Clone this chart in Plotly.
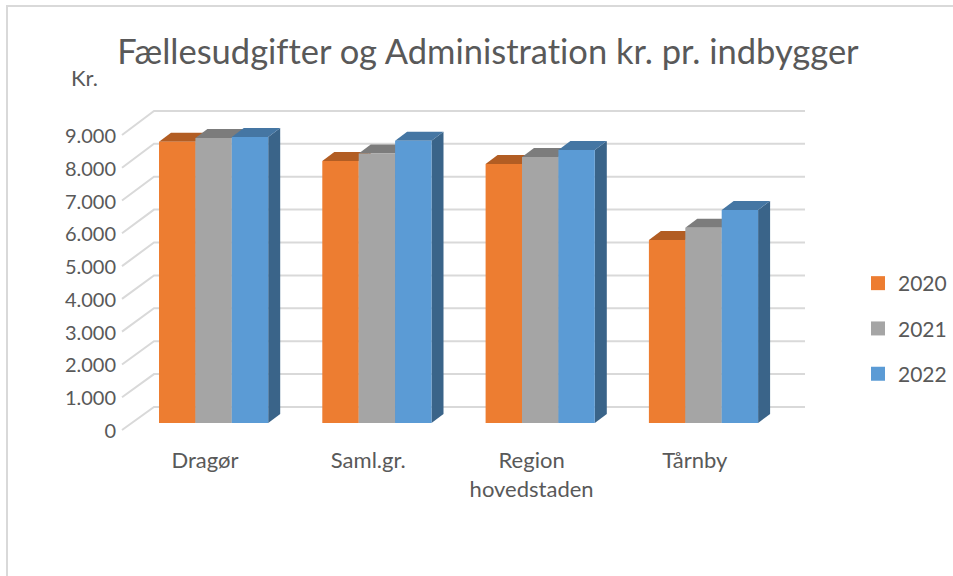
import plotly.graph_objects as go

categories = ["Dragør", "Saml.gr.", "Region<br>hovedstaden", "Tårnby"]
years = ["2020", "2021", "2022"]
values_2020 = [8550, 7960, 7870, 5560]
values_2021 = [8660, 8195, 8085, 5935]
values_2022 = [8690, 8580, 8300, 6475]
series = [values_2020, values_2021, values_2022]
front_colors = ["#ED7D31", "#A5A5A5", "#5B9BD5"]
top_colors = ["#B25D23", "#7C7C7C", "#4576A3"]
side_colors = ["#B25D23", "#7C7C7C", "#3A6489"]
y_ticks = list(range(0, 10000, 1000))
y_ticktext = [f"{v:,}".replace(",", ".") for v in y_ticks]

W, H = 953, 576
UNIT = 163.3
X0 = 205
xr = [(0 - X0) / UNIT, (W - X0) / UNIT]
yr = [(423 - H) / 0.0329, 423 / 0.0329]
yr_lab = [(431 - H) / 0.03278, 431 / 0.03278]
bar_w = 36.4 / UNIT
offsets = [-27.8 / UNIT, 8.6 / UNIT, 45.0 / UNIT]
dx, dy = 12 / UNIT, 9 / 0.0329
wall_front, wall_back, wall_right = (122 - X0) / UNIT, (154 - X0) / UNIT, (805 - X0) / UNIT
back_shift = (423 - 407) / 0.0329
front_shift = (423 - 430) / 0.0329

fig = go.Figure()
GRID = dict(color="#D9D9D9", width=2)
for v in y_ticks:
    fig.add_trace(go.Scatter(
        x=[wall_front, wall_back, wall_right],
        y=[v * 0.03278 / 0.0329 + front_shift, v + back_shift, v + back_shift],
        mode="lines", line=GRID, showlegend=False, hoverinfo="skip"))

for i in range(len(categories)):
    for s, vals in enumerate(series):
        x0 = i + offsets[s] - bar_w / 2
        x1 = x0 + bar_w
        v = vals[i]
        fig.add_trace(go.Scatter(
            x=[x1, x1 + dx, x1 + dx, x1, x1], y=[0, dy, v + dy, v, 0],
            mode="lines", fill="toself", fillcolor=side_colors[s], line=dict(width=0),
            showlegend=False, hoverinfo="skip"))
        fig.add_trace(go.Scatter(
            x=[x0, x0 + dx, x1 + dx, x1, x0], y=[v, v + dy, v + dy, v, v],
            mode="lines", fill="toself", fillcolor=top_colors[s], line=dict(width=0),
            showlegend=False, hoverinfo="skip"))

for s, vals in enumerate(series):
    fig.add_trace(go.Bar(
        x=[i + offsets[s] for i in range(len(categories))], y=vals, width=bar_w,
        marker=dict(color=front_colors[s], line=dict(width=0)), name=years[s],
        showlegend=False, xaxis="x2", yaxis="y2"))
    fig.add_trace(go.Scatter(
        x=[None], y=[None], mode="markers", name=years[s], legendgroup=years[s],
        marker=dict(symbol="square", size=14, color=front_colors[s]),
        xaxis="x2", yaxis="y2"))

fig.add_trace(go.Scatter(x=[0], y=[0], mode="none", showlegend=False, hoverinfo="skip",
                         xaxis="x3", yaxis="y3"))

hidden = dict(visible=False, fixedrange=True)
TEXT = "#595959"
FONT = "Lato"
fig.update_layout(
    width=W, height=H, margin=dict(l=0, r=0, t=0, b=0),
    paper_bgcolor="white", plot_bgcolor="rgba(0,0,0,0)",
    barmode="overlay", font=dict(family=FONT, color=TEXT, size=20),
    title=dict(text="Fællesudgifter og Administration kr. pr. indbygger",
               x=488 / W, xanchor="center", y=1 - 52 / H, yanchor="middle",
               font=dict(family=FONT, size=34.5, color=TEXT)),
    xaxis=dict(range=xr, domain=[0, 1], **hidden),
    yaxis=dict(range=yr, domain=[0, 1], **hidden),
    xaxis2=dict(range=xr, domain=[0, 1], overlaying="x", anchor="free", position=1 - 445 / H,
                tickmode="array", tickvals=list(range(len(categories))), ticktext=categories,
                showgrid=False, zeroline=False, showline=False, ticklen=0, side="bottom",
                tickfont=dict(size=22, color=TEXT), tickangle=0, fixedrange=True),
    yaxis2=dict(range=yr, domain=[0, 1], overlaying="y", **hidden),
    xaxis3=dict(range=xr, domain=[0, 1], overlaying="x", **hidden),
    yaxis3=dict(range=yr_lab, domain=[0, 1], overlaying="y", anchor="free", position=116 / W,
                side="left", tickmode="array", tickvals=y_ticks, ticktext=y_ticktext,
                showgrid=False, zeroline=False, showline=False, ticklen=0,
                tickfont=dict(size=20, color=TEXT), fixedrange=True),
    legend=dict(x=858 / W, xanchor="left", y=1 - 263 / H, yanchor="top",
                tracegroupgap=15, font=dict(size=21, color=TEXT), bgcolor="rgba(0,0,0,0)"),
    annotations=[dict(text="Kr.", xref="paper", yref="paper", x=84 / W, y=1 - 77 / H,
                      xanchor="center", yanchor="middle", showarrow=False,
                      font=dict(size=22, color=TEXT))],
    shapes=[dict(type="rect", xref="paper", yref="paper", x0=7 / W, x1=1.02, y0=-0.02, y1=1 - 6 / H,
                 line=dict(color="#D9D9D9", width=2), layer="below")],
    showlegend=True,
)
post = ("document.body.style.margin='0';document.body.style.overflow='hidden';"
        "var st=document.createElement('style');"
        "st.textContent='text,tspan{font-variant-ligatures:none !important;font-feature-settings:\"liga\" 0,\"clig\" 0 !important}';"
        "document.head.appendChild(st);")
fig.write_html("out.html", config={"displayModeBar": False}, post_script=post)
